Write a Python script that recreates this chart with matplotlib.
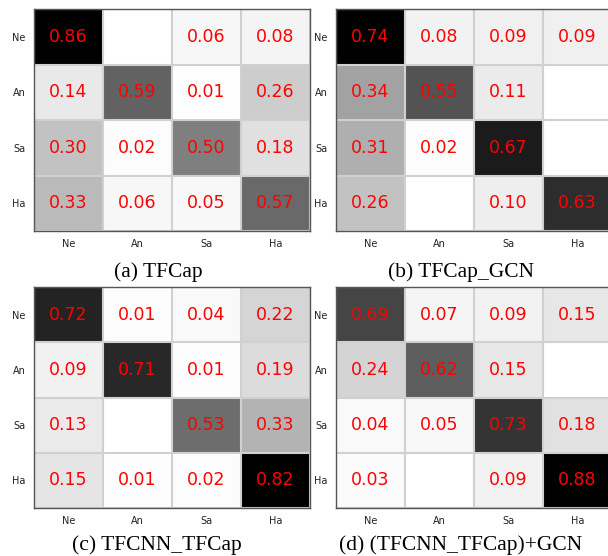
import numpy as np
import matplotlib
matplotlib.use('Agg')
from matplotlib import pyplot as plt

labels = ['Ne', 'An', 'Sa', 'Ha']

# 0 = cell left blank in the figure
cm_tfcap = [[0.86, 0.00, 0.06, 0.08],
            [0.14, 0.59, 0.01, 0.26],
            [0.30, 0.02, 0.50, 0.18],
            [0.33, 0.06, 0.05, 0.57]]
cm_tfcap_gcn = [[0.74, 0.08, 0.09, 0.09],
                [0.34, 0.55, 0.11, 0.00],
                [0.31, 0.02, 0.67, 0.00],
                [0.26, 0.00, 0.10, 0.63]]
cm_tfcnn_tfcap = [[0.72, 0.01, 0.04, 0.22],
                  [0.09, 0.71, 0.01, 0.19],
                  [0.13, 0.00, 0.53, 0.33],
                  [0.15, 0.01, 0.02, 0.82]]
cm_tfcnn_tfcap_gcn = [[0.69, 0.07, 0.09, 0.15],
                      [0.24, 0.62, 0.15, 0.00],
                      [0.04, 0.05, 0.73, 0.18],
                      [0.03, 0.00, 0.09, 0.88]]

captions = ['(a) TFCap', '(b) TFCap_GCN', '(c) TFCNN_TFCap', '(d) (TFCNN_TFCap)+GCN']
matrices = [cm_tfcap, cm_tfcap_gcn, cm_tfcnn_tfcap, cm_tfcnn_tfcap_gcn]

fig = plt.figure(figsize=(6.08, 5.56), dpi=100)

W, H = 608, 556
# axes boxes in pixels: left, top, width, height
boxes = [(34, 9, 276, 222), (336, 9, 276, 222),
         (34, 287, 276, 221), (336, 287, 276, 221)]
cap_pos = [(158, 277), (461, 277), (157, 550), (461, 550)]

for m, cap, (l, t, w, h), (cx, cy) in zip(matrices, captions, boxes, cap_pos):
    m = np.array(m)
    ax = fig.add_axes([l / W, 1 - (t + h) / H, w / W, h / H])
    ax.imshow(m, cmap='Greys', vmin=0, vmax=m.max(), aspect='auto',
              interpolation='nearest')
    for i in range(4):
        for j in range(4):
            if m[i, j] > 0:
                ax.text(j, i, '%.2f' % m[i, j], color='red', fontsize=12.5,
                        ha='center', va='center')
    ax.set_xticks(range(4))
    ax.set_yticks(range(4))
    ax.set_xticklabels(labels, fontsize=7, color='#222222')
    ax.set_yticklabels(labels, fontsize=7, color='#222222')
    ax.tick_params(length=0, pad=6)
    ax.set_xticks(np.arange(-0.5, 4, 1), minor=True)
    ax.set_yticks(np.arange(-0.5, 4, 1), minor=True)
    ax.tick_params(which='minor', length=0)
    ax.grid(which='minor', color='#d0d0d0', linewidth=1.5)
    ax.grid(which='major', visible=False)
    for s in ax.spines.values():
        s.set_color('#555555')
        s.set_linewidth(1)
    fig.text(cx / W, 1 - cy / H, cap, fontsize=15.5, ha='center', va='baseline',
             family=['Liberation Serif', 'DejaVu Serif'])

plt.savefig('out.png', dpi=100)
